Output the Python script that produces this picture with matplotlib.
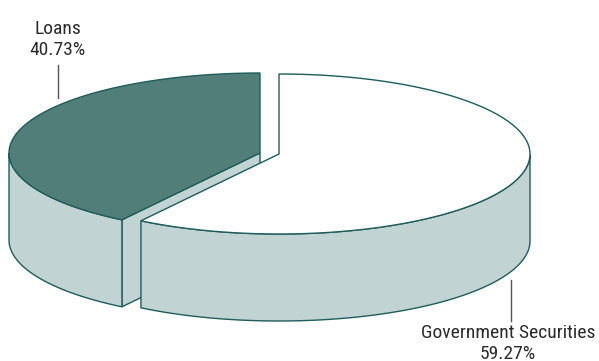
import numpy as np
import matplotlib.pyplot as plt
from matplotlib.patches import Polygon

plt.rcParams['font.family'] = ['Roboto Condensed', 'Liberation Sans Narrow',
                               'Roboto', 'DejaVu Sans']

labels = ['Loans', 'Government Securities']
shares = [40.73, 59.27]

top_colors = ['#517e79', '#ffffff']
side_color = '#c1d4d3'
edge_color = '#1f5c5a'

# pixel geometry of the tilted pie
a, b, depth = 251, 80, 87
centers = [(260, 153), (279, 154)]

fig = plt.figure(figsize=(5.99, 3.61), dpi=100)
ax = fig.add_axes([0, 0, 1, 1])
ax.set_xlim(0, 599)
ax.set_ylim(361, 0)
ax.axis('off')


def rim(cx, cy, t0, t1, dy=0, n=120):
    t = np.radians(np.linspace(t0, t1, n))
    return np.column_stack([cx + a * np.cos(t), cy - b * np.sin(t) + dy])


def patch(pts, fc):
    ax.add_patch(Polygon(pts, closed=True, fc=fc, ec=edge_color, lw=1.0,
                         joinstyle='miter'))


# slices go counter-clockwise from 12 o'clock for loans, clockwise for the rest
cut = 90 + shares[0] / 100 * 360
ranges = [(90, cut), (cut - 360, 90)]

# loans slice: radial face, outer wall, then top
cx, cy = centers[0]
t0, t1 = ranges[0]
e = rim(cx, cy, t1, t1, n=1)[0]
patch([(cx, cy), e, (e[0], e[1] + depth), (cx, cy + depth)], side_color)
wall_top = rim(cx, cy, 180, t1)
wall_bot = rim(cx, cy, t1, 180, dy=depth)
patch(np.vstack([wall_top, wall_bot]), side_color)
patch(np.vstack([[(cx, cy)], rim(cx, cy, t0, t1)]), top_colors[0])

# government securities slice
cx, cy = centers[1]
t0, t1 = ranges[1]
wall_top = rim(cx, cy, t0, 0)
wall_bot = rim(cx, cy, 0, t0, dy=depth)
patch(np.vstack([wall_top, wall_bot]), side_color)
patch(np.vstack([[(cx, cy)], rim(cx, cy, t0, t1)]), top_colors[1])

# labels with leader lines
ax.plot([58, 58], [65, 98], color='#555555', lw=1)
ax.text(58, 39.5, f'{labels[0]}\n{shares[0]:.2f}%', ha='center', va='center',
        fontsize=14, color='#2b2b2b', linespacing=1.2)
ax.plot([511, 511], [280, 321], color='#555555', lw=1)
ax.text(508, 343.5, f'{labels[1]}\n{shares[1]:.2f}%', ha='center', va='center',
        fontsize=14, color='#2b2b2b', linespacing=1.2)

fig.savefig('out.png', dpi=100)
